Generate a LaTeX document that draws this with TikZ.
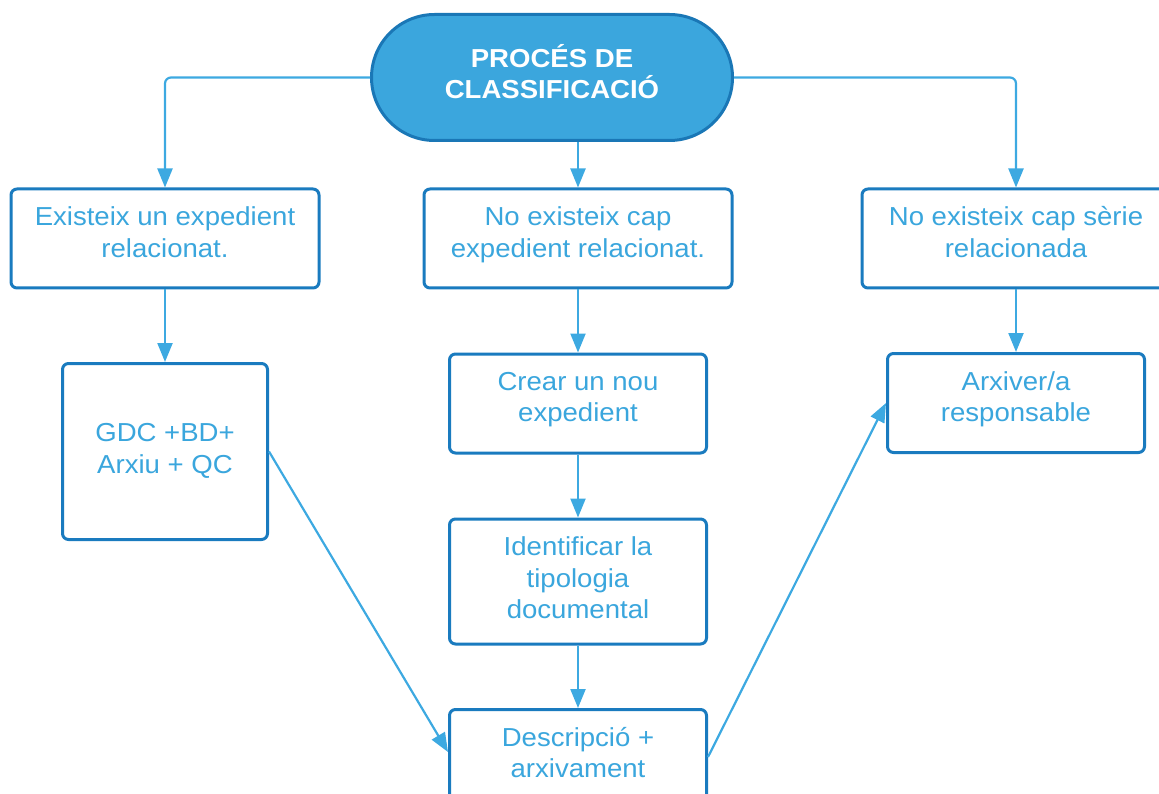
\documentclass[tikz,border=0pt]{standalone}
\usepackage{fontspec}
\setmainfont{Liberation Sans}[FakeStretch=1.06]
\usetikzlibrary{arrows.meta}
\definecolor{txtblue}{HTML}{3AA6DD}
\definecolor{edgeblue}{HTML}{1A7BBF}
\definecolor{lineblue}{HTML}{3DA9E1}
\definecolor{titlefill}{HTML}{3BA6DD}
\definecolor{titleedge}{HTML}{1A77B6}
\begin{document}
\begin{tikzpicture}[x=1pt,y=-1pt,
  box/.style={draw=edgeblue, line width=3pt, rounded corners=6pt, fill=white,
    align=center, text=txtblue, font=\fontsize{26}{31.5}\selectfont, inner sep=0pt},
  titlebox/.style={draw=titleedge, fill=titlefill, line width=3pt, rounded corners=63pt,
    text=white, font=\bfseries\fontsize{26}{31}\selectfont, align=center, inner sep=0pt},
  conn/.style={draw=lineblue, line width=2.2pt, rounded corners=6pt,
    -{Triangle[length=19pt,width=15pt]}},
]
\useasboundingbox (0,0) rectangle (1159,794);
\clip (0,0) rectangle (1159,794);

\node[titlebox, minimum width=361pt, minimum height=126pt, text depth=12pt] (top) at (552,77.5) {PROCÉS DE\\CLASSIFICACIÓ};

\node[box, minimum width=308pt, minimum height=99pt, text depth=13pt] (b1) at (165,238.5) {Existeix un expedient\\relacionat.};
\node[box, minimum width=308pt, minimum height=99pt, text depth=13pt] (b2) at (578,238.5) {No existeix cap\\expedient relacionat.};
\node[box, minimum width=308pt, minimum height=99pt, text depth=13pt] (b3) at (1016,238.5) {No existeix cap sèrie\\relacionada};

\node[box, minimum width=205pt, minimum height=176pt, text depth=6pt] (b4) at (165,451.5) {GDC +BD+\\Arxiu + QC};
\node[box, minimum width=257pt, minimum height=99pt, text depth=13pt] (b5) at (578,403.5) {Crear un nou\\expedient};
\node[box, minimum width=257pt, minimum height=125pt, text depth=7pt] (b6) at (578,581.5) {Identificar la\\tipologia\\documental};
\node[box, minimum width=257pt, minimum height=99pt, text depth=13pt] (b7) at (578,759) {Descripció +\\arxivament};
\node[box, minimum width=257pt, minimum height=99pt, text depth=13pt] (b8) at (1016,403) {Arxiver/a\\responsable};

\draw[conn] (top.west) -| (b1.north);
\draw[conn] (top.south -| b2.north) -- (b2.north);
\draw[conn] (top.east) -| (b3.north);
\draw[conn] (b1.south) -- (b4.north);
\draw[conn] (b2.south) -- (b5.north);
\draw[conn] (b5.south) -- (b6.north);
\draw[conn] (b6.south) -- (b7.north);
\draw[conn] (b3.south) -- (b8.north);
\draw[conn] (b4.east) -- ([yshift=7pt]b7.west);
\draw[conn] ([yshift=2pt]b7.east) -- (b8.west);
\end{tikzpicture}
\end{document}
